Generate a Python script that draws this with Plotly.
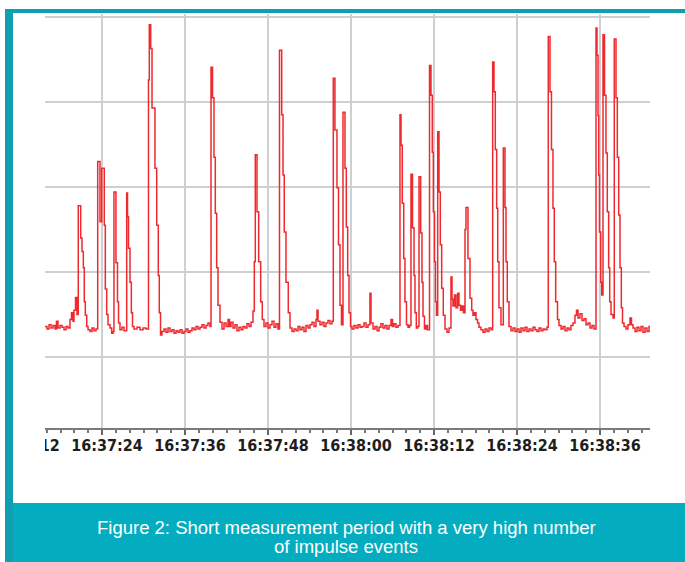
import plotly.graph_objects as go
import pandas as pd

# seconds relative to 16:37:24 and measured level (arbitrary units, grid every 100)
seconds = [-8.6, -8.24, -7.95, -7.66, -7.37, -7.08, -6.79, -6.58, -6.36, -6.07, -5.78, -5.49, -5.20, -4.92, -4.63, -4.41, -4.19, -4.05, -3.83, -3.61,
           -3.43, -3.08, -2.89, -2.70, -2.56, -2.41, -2.21, -2.02, -1.73, -1.45, -1.16, -0.87, -0.62, -0.29, -0.04, 0.33, 0.48, 0.68, 0.87, 1.16,
           1.40, 1.59, 1.73, 2.02, 2.24, 2.39, 2.60, 2.89, 3.18, 3.57, 3.69, 3.83, 4.05, 4.24, 4.41, 4.63, 5.06, 5.49, 5.93, 6.36,
           6.72, 6.84, 7.04, 7.23, 7.66, 7.91, 8.14, 8.28, 8.46, 8.67, 8.96, 9.25, 9.54, 9.83, 10.12, 10.41, 10.70, 10.99, 11.28, 11.57,
           11.85, 12.14, 12.43, 12.72, 13.01, 13.30, 13.59, 13.88, 14.17, 14.46, 14.75, 15.04, 15.32, 15.61, 15.76, 15.98, 16.19, 16.38, 16.58, 16.77,
           17.06, 17.35, 17.64, 17.93, 18.22, 18.43, 18.65, 18.94, 19.23, 19.52, 19.81, 20.10, 20.38, 20.67, 20.96, 21.25, 21.54, 21.83, 22.02, 22.16,
           22.41, 22.65, 22.94, 23.17, 23.42, 23.71, 24.00, 24.29, 24.58, 24.87, 25.15, 25.44, 25.66, 25.98, 26.17, 26.35, 26.60, 26.93, 27.18, 27.47,
           27.76, 28.05, 28.34, 28.62, 28.91, 29.20, 29.49, 29.78, 30.07, 30.36, 30.65, 30.94, 31.08, 31.23, 31.52, 31.81, 32.09, 32.38, 32.67, 32.96,
           33.25, 33.44, 33.68, 33.97, 34.19, 34.41, 34.62, 34.84, 35.13, 35.32, 35.52, 35.71, 35.93, 36.14, 36.43, 36.72, 37.01, 37.30, 37.59, 37.88,
           38.17, 38.46, 38.74, 38.89, 39.18, 39.47, 39.76, 40.05, 40.33, 40.62, 40.91, 41.20, 41.49, 41.78, 42.00, 42.21, 42.50, 42.79, 43.08, 43.23,
           43.41, 43.62, 43.80, 44.02, 44.24, 44.46, 44.67, 44.89, 45.11, 45.25, 45.44, 45.64, 45.83, 46.07, 46.26, 46.41, 46.62, 46.84, 47.06, 47.35,
           47.56, 47.75, 47.90, 48.07, 48.21, 48.36, 48.53, 48.72, 48.91, 49.11, 49.34, 49.59, 49.88, 50.17, 50.45, 50.60, 50.74, 50.96, 51.18, 51.42,
           51.61, 51.83, 52.05, 52.26, 52.48, 52.62, 52.91, 53.20, 53.45, 53.63, 53.85, 54.07, 54.29, 54.50, 54.79, 55.08, 55.37, 55.66, 55.95, 56.24,
           56.48, 56.67, 56.86, 57.06, 57.21, 57.39, 57.68, 58.02, 58.26, 58.41, 58.59, 58.84, 59.13, 59.42, 59.71, 60.00, 60.29, 60.57, 60.86, 61.15,
           61.44, 61.73, 62.02, 62.31, 62.60, 62.89, 63.18, 63.47, 63.76, 64.04, 64.33, 64.52, 64.77, 64.98, 65.20, 65.39, 65.59, 65.85, 66.07, 66.36,
           66.65, 66.94, 67.23, 67.51, 67.80, 68.09, 68.38, 68.60, 68.82, 69.10, 69.39, 69.68, 69.97, 70.26, 70.55, 70.84, 71.13, 71.42, 71.56, 71.71,
           71.81, 71.92, 72.10, 72.24, 72.43, 72.65, 72.86, 73.05, 73.25, 73.40, 73.59, 73.88, 74.06, 74.31, 74.50, 74.70, 74.89, 75.08, 75.25, 75.47,
           75.76, 76.04, 76.33, 76.55, 76.77, 77.06, 77.35, 77.63, 77.92, 78.21, 78.50, 78.79, 79.08, 79.37]
level = [36, 36, 33, 38, 34, 37, 33, 42, 34, 37, 35, 32, 36, 34, 44, 52, 42, 55, 70, 50,
         178, 140, 124, 105, 65, 49, 36, 32, 30, 34, 31, 33, 230, 159, 222, 155, 80, 50, 38, 34,
         28, 30, 194, 111, 65, 40, 32, 35, 31, 193, 165, 128, 88, 52, 36, 33, 35, 32, 34, 33,
         326, 391, 363, 293, 222, 155, 96, 52, 26, 30, 33, 29, 34, 30, 32, 28, 31, 29, 32, 28,
         30, 33, 29, 31, 34, 32, 36, 33, 35, 38, 34, 37, 40, 36, 341, 305, 235, 169, 105, 61,
         41, 33, 40, 36, 44, 36, 41, 34, 38, 31, 35, 32, 36, 34, 39, 36, 41, 54, 112, 238,
         171, 112, 65, 44, 36, 40, 34, 38, 42, 35, 39, 33, 361, 285, 214, 147, 88, 52, 34, 30,
         33, 31, 36, 32, 35, 30, 37, 34, 38, 41, 36, 44, 55, 42, 38, 41, 36, 40, 43, 39,
         42, 328, 267, 199, 132, 61, 38, 288, 222, 153, 96, 52, 36, 33, 37, 34, 38, 35, 36, 40,
         35, 38, 75, 40, 33, 36, 31, 35, 39, 34, 37, 33, 37, 44, 36, 39, 35, 37, 285, 249,
         181, 116, 65, 38, 35, 37, 215, 152, 96, 52, 34, 36, 212, 146, 88, 48, 33, 37, 32, 343,
         308, 241, 171, 112, 65, 49, 265, 194, 132, 81, 49, 33, 29, 34, 94, 68, 60, 73, 58, 75,
         61, 55, 60, 52, 150, 176, 116, 69, 55, 49, 52, 44, 40, 35, 32, 29, 33, 30, 34, 32,
         347, 312, 244, 175, 112, 58, 38, 246, 176, 112, 65, 36, 31, 34, 30, 33, 29, 34, 31, 35,
         30, 33, 31, 35, 32, 30, 34, 31, 33, 32, 35, 377, 312, 244, 175, 112, 65, 44, 37, 33,
         36, 31, 34, 32, 37, 40, 49, 55, 46, 51, 43, 45, 38, 40, 34, 37, 33, 387, 355, 284,
         214, 147, 88, 73, 379, 308, 240, 171, 105, 65, 50, 46, 374, 305, 235, 167, 105, 58, 40, 36,
         33, 38, 46, 38, 34, 30, 35, 31, 36, 29, 34, 30, 36, 33]

caption_line1 = "Figure 2: Short measurement period with a very high number"
caption_line2 = "of impulse events"

base = pd.Timestamp("2016-01-01 16:37:24")
times = [base + pd.Timedelta(seconds=s) for s in seconds]

W, H = 685, 562
L, R, T, B = 13, 650, 14, 428  # plot area in px


def px(x):
    return (x - L) / (R - L)


def py(y):
    return (B - y) / (B - T)


fig = go.Figure()
fig.add_trace(go.Scatter(x=times, y=level, mode="lines", line_shape="hv",
                         line=dict(color="#ee2a2f", width=1.5), showlegend=False,
                         hoverinfo="skip"))

x0 = base + pd.Timedelta(seconds=(L - 102) / 6.917)
x1 = base + pd.Timedelta(seconds=(R - 102) / 6.917)

grid = "#cdd0d3"
fig.update_layout(
    width=W, height=H, autosize=False,
    margin=dict(l=L, r=W - R, t=T, b=H - B, pad=0, autoexpand=False),
    paper_bgcolor="white", plot_bgcolor="white",
    xaxis=dict(type="date", range=[x0, x1], tick0="2016-01-01 16:37:00", dtick=12000,
               tickformat="%H:%M:%S", showgrid=True, gridcolor=grid, gridwidth=2,
               showline=True, linecolor="#7a7a7a", linewidth=1.5,
               ticks="outside", ticklen=5, tickcolor="#666", tickwidth=1.5,
               minor=dict(dtick=2000, ticks="outside", ticklen=3, tickcolor="#777", showgrid=False),
               ticklabelshift=5, ticklabelstandoff=-3, ticklabeloverflow="allow",
               automargin=False,
               tickfont=dict(family="DejaVu Sans Condensed, DejaVu Sans", size=16, color="#1e1e1e", weight="bold"),
               zeroline=False, fixedrange=True),
    yaxis=dict(range=[(357 - 428) / 0.85, (357 - 14) / 0.85], tick0=0, dtick=100, showticklabels=False,
               showgrid=True, gridcolor=grid, gridwidth=2, zeroline=False, showline=False,
               ticks="", fixedrange=True, automargin=False),
)

teal_strip = "#0f9fb1"
teal_band = "#03adbf"
shapes = [
    dict(type="rect", xref="paper", yref="paper", x0=px(0), x1=px(45), y0=py(503), y1=py(13),
         fillcolor="white", line_width=0, layer="above"),
    dict(type="rect", xref="paper", yref="paper", x0=px(13), x1=px(W), y0=py(H), y1=py(503),
         fillcolor=teal_band, line_width=0, layer="above"),
    dict(type="rect", xref="paper", yref="paper", x0=px(5), x1=px(13), y0=py(H), y1=py(9),
         fillcolor=teal_strip, line_width=0, layer="above"),
    dict(type="rect", xref="paper", yref="paper", x0=px(5), x1=px(W), y0=py(13), y1=py(9),
         fillcolor=teal_strip, line_width=0, layer="above"),
]
fig.update_layout(shapes=shapes)

cap_font = dict(family="Liberation Sans, Arial", size=18.5, color="white")
fig.add_annotation(text=caption_line1, xref="paper", yref="paper", x=px(346), y=py(527.5),
                   xanchor="center", yanchor="middle", showarrow=False, font=cap_font)
fig.add_annotation(text=caption_line2, xref="paper", yref="paper", x=px(346), y=py(546.5),
                   xanchor="center", yanchor="middle", showarrow=False, font=cap_font)

fig.write_html("out.html", config={"displayModeBar": False},
               post_script="document.body.style.margin='0';")
